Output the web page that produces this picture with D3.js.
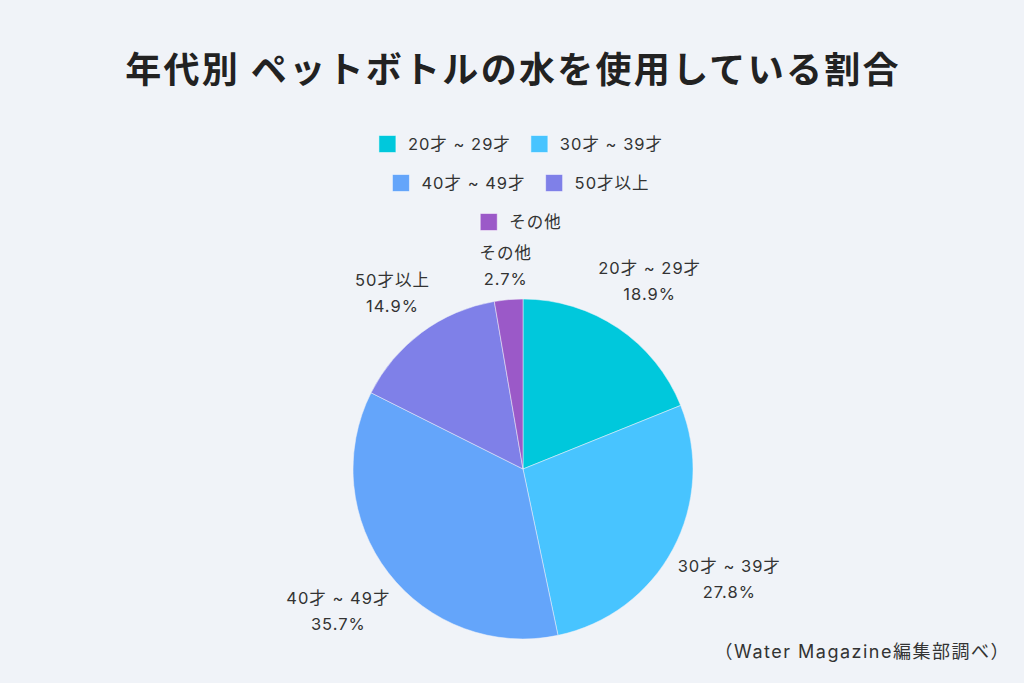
<!DOCTYPE html>
<html>
<head>
<meta charset="utf-8">
<script src="https://cdn.jsdelivr.net/npm/d3@7"></script>
<style>
  body { margin: 0; background: #f0f3f8; }
  text { font-family: Inter, "Noto Sans CJK JP", sans-serif; fill: #333; }
</style>
</head>
<body>
<div id="chart"></div>
<script>
const categories = ["20才 ~ 29才", "30才 ~ 39才", "40才 ~ 49才", "50才以上", "その他"];
const values = [18.9, 27.8, 35.7, 14.9, 2.7];
const colors = ["#00c8dc", "#48c4ff", "#64a5fa", "#7f80e8", "#9b59c8"];

const width = 1024, height = 683;
const cx = 523, cy = 469, radius = 170;

const svg = d3.select("#chart").append("svg")
  .attr("width", width)
  .attr("height", height);

svg.append("rect").attr("width", width).attr("height", height).attr("fill", "#f0f3f8");

svg.append("text")
  .attr("x", 513)
  .attr("y", 83)
  .attr("text-anchor", "middle")
  .attr("font-size", 36)
  .attr("font-weight", "bold")
  .attr("letter-spacing", 2.3)
  .style("fill", "#222")
  .text("年代別 ペットボトルの水を使用している割合");

// legend, rows of 2,2,1 centred over the pie
const rows = [[0, 1], [2, 3], [4]];
const legend = svg.append("g");
rows.forEach((row, ri) => {
  const y = 144 + ri * 39;
  const items = row.map(i => {
    const g = legend.append("g");
    g.append("rect")
      .attr("width", 17).attr("height", 17)
      .attr("y", -8.5)
      .attr("fill", colors[i])
      .attr("stroke", "#fff").attr("stroke-opacity", 0.5);
    const t = g.append("text")
      .attr("x", 29).attr("dy", "0.36em")
      .attr("font-size", 16.5)
      .attr("letter-spacing", 1)
      .text(categories[i]);
    return { g, w: 29 + t.node().getComputedTextLength() };
  });
  const gap = 20;
  const total = d3.sum(items, d => d.w) + gap * (items.length - 1);
  let x = 521 - total / 2;
  items.forEach(it => {
    it.g.attr("transform", `translate(${x},${y})`);
    x += it.w + gap;
  });
});

const pie = d3.pie().sort(null).value(d => d);
const arcs = pie(values);
const arc = d3.arc().innerRadius(0).outerRadius(radius);

const g = svg.append("g").attr("transform", `translate(${cx},${cy})`);

g.selectAll("path")
  .data(arcs)
  .join("path")
    .attr("d", arc)
    .attr("fill", (d, i) => colors[i])
    .attr("stroke", "#f0f3f8")
    .attr("stroke-width", 0.5);

const lab = g.selectAll("text.lab")
  .data(arcs)
  .join("text")
    .attr("class", "lab")
    .attr("text-anchor", "middle")
    .attr("font-size", 16.5)
    .attr("letter-spacing", 1);

lab.append("tspan").attr("x", 0).attr("y", -7).text((d, i) => categories[i]);
lab.append("tspan").attr("x", 0).attr("y", 19).text(d => d.data.toFixed(1) + "%");

// push each label out so its box sits just beyond the rim
const r0 = 176;
lab.attr("transform", function(d) {
  const a = (d.startAngle + d.endAngle) / 2;
  const w = this.getBBox().width / 2, h = 26;
  const r = r0 + w * Math.abs(Math.sin(a)) + h * Math.abs(Math.cos(a));
  return `translate(${r * Math.sin(a)},${-r * Math.cos(a)})`;
});

svg.append("text")
  .attr("x", 1010)
  .attr("y", 658)
  .attr("text-anchor", "end")
  .attr("font-size", 18)
  .attr("letter-spacing", 1.5)
  .text("（Water Magazine編集部調べ）");
</script>
</body>
</html>
